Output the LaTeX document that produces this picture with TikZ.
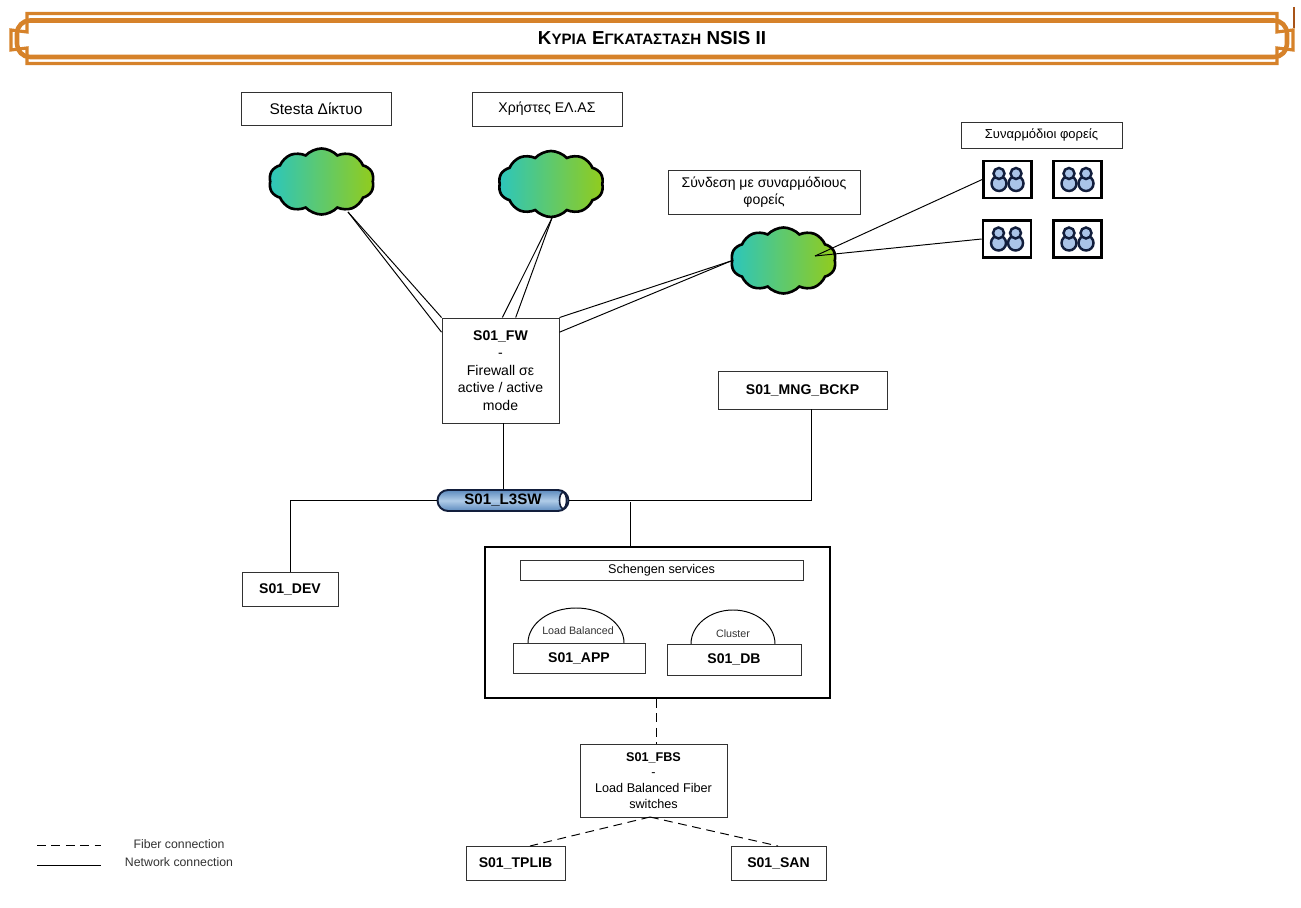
\documentclass[tikz,border=0pt]{standalone}
\usepackage{fontspec}
\setmainfont{Liberation Sans}
\usetikzlibrary{shapes.symbols,shapes.misc}
\definecolor{bannerorange}{RGB}{214,130,42}
\definecolor{bannerdark}{RGB}{168,84,24}
\definecolor{cloudteal}{RGB}{44,198,188}
\definecolor{cloudgreen}{RGB}{146,204,28}
\definecolor{pipeblue}{RGB}{92,138,190}
\definecolor{pipelight}{RGB}{176,204,232}
\definecolor{peerblue}{RGB}{170,196,232}
\definecolor{peernavy}{RGB}{18,30,60}
\definecolor{boxgray}{RGB}{50,50,50}
\tikzset{
    plainbox/.style={draw=boxgray, fill=white, line width=0.55pt, inner sep=0pt, align=center, font=\fontsize{8}{10}\selectfont},
    namebox/.style={plainbox, font=\fontsize{8}{10}\selectfont\bfseries},
    netcloud/.style={cloud, cloud puffs=10, cloud puff arc=95, aspect=1.6, draw=black, line width=1.5pt, inner sep=0pt,
        left color=cloudteal, right color=cloudgreen, minimum width=2.1cm, minimum height=1.32cm},
    peerbox/.style={draw=black, fill=white, line width=1.5pt, inner sep=0pt, minimum width=0.96cm, minimum height=0.74cm},
    netline/.style={draw=black, line width=0.55pt},
    fiberline/.style={draw=black, line width=0.55pt, dash pattern=on 5pt off 3.2pt},
    bannerline/.style={draw=bannerorange, line join=miter}
}
\begin{document}
\begin{tikzpicture}[x=0.02cm, y=-0.02cm]
    \useasboundingbox (0,0) rectangle (1301,908);

    % Banner
    \draw[bannerline, line width=1.8pt] (27,13.5) -- (1277,13.5) -- (1277,32) -- (1293,30) -- (1293,50) -- (1277,48) -- (1277,63.5) -- (27,63.5) -- (27,48) -- (11,50) -- (11,30) -- (27,32) -- cycle;
    \draw[bannerline, line width=2.6pt] (30,20.5) -- (1274,20.5) arc[start angle=-90, end angle=0, radius=13] -- (1287,44) arc[start angle=0, end angle=90, radius=13] -- (30,57) arc[start angle=90, end angle=180, radius=13] -- (17,33.5) arc[start angle=180, end angle=270, radius=13] -- cycle;
    \draw[bannerdark, line width=0.7pt] (1294,7) -- (1294,28);
    \node (title) at (652,38.5) {\fontsize{10.7}{12}\selectfont\bfseries Κ{\fontsize{8.6}{12}\selectfont ΥΡΙΑ} Ε{\fontsize{8.6}{12}\selectfont ΓΚΑΤΑΣΤΑΣΗ} NSIS II};

    % Top boxes
    \node[plainbox, minimum width=3cm, minimum height=0.66cm, font=\fontsize{8.8}{10}\selectfont] (stesta) at (316,108.5) {Stesta Δίκτυο};
    \node[plainbox, minimum width=3cm, minimum height=0.68cm] (users) at (547,109) {Χρήστες ΕΛ.ΑΣ};
    \node[plainbox, minimum width=3.84cm, minimum height=0.88cm] (linklabel) at (764,192) {Σύνδεση με συναρμόδιους\\φορείς};
    \node[plainbox, minimum width=3.22cm, minimum height=0.52cm, font=\fontsize{7.4}{9}\selectfont] (peerlabel) at (1041.5,135) {Συναρμόδιοι φορείς};

    % Clouds
    \node[netcloud] (cloudA) at (321.5,181.5) {};
    \node[netcloud] (cloudB) at (551,184) {};
    \node[netcloud] (cloudC) at (783.5,260.5) {};
    \coordinate (cloudAout) at (348,212);
    \coordinate (cloudBout) at (552,218);
    \coordinate (cloudCout) at (731,261);
    \coordinate (cloudCin) at (815,256);

    % Peer boxes
    \foreach \name/\x/\y in {a/1007.5/179.5, b/1077.5/179.5, c/1007/239, d/1077.5/239} {
        \node[peerbox] (peer\name) at (\x,\y) {};
        \foreach \dx in {-8.5,8.5} {
            \draw[draw=peernavy, fill=peerblue, line width=1.4pt] (\x+\dx,\y+4) circle[radius=7.5];
            \draw[draw=peernavy, fill=peerblue, line width=1.4pt] (\x+\dx,\y-6) circle[radius=5.5];
        }
    }

    % Middle boxes
    \node[plainbox, minimum width=2.34cm, minimum height=2.1cm] (fw) at (500.5,370.5) {\textbf{S01\_FW}\\-\\Firewall σε\\active / active\\mode};
    \node[namebox, minimum width=3.38cm, minimum height=0.76cm] (mng) at (802.5,390) {S01\_MNG\_BCKP};
    \node[rounded rectangle, draw=peernavy, line width=1.1pt, inner sep=0pt, minimum width=2.62cm, minimum height=0.42cm,
        top color=pipeblue, bottom color=pipeblue, middle color=pipelight, font=\fontsize{8.6}{10}\selectfont\bfseries] (l3sw) at (503,500.5) {S01\_L3SW};
    \draw[draw=peernavy, fill=white, line width=0.9pt] (563,500.5) ellipse[x radius=3.5, y radius=8];
    \node[namebox, minimum width=1.92cm, minimum height=0.68cm] (dev) at (290,589) {S01\_DEV};

    % Schengen box
    \node[draw=black, line width=1.1pt, inner sep=0pt, minimum width=6.9cm, minimum height=3.02cm] (services) at (657.5,622.5) {};
    \node[plainbox, minimum width=5.66cm, minimum height=0.4cm, font=\fontsize{7.2}{9}\selectfont] (schengen) at (661.5,570) {Schengen services};
    \draw[line width=0.55pt] (528,643) arc[start angle=180, end angle=360, x radius=48, y radius=35];
    \draw[line width=0.55pt] (691,644) arc[start angle=180, end angle=360, x radius=42, y radius=34];
    \node[font=\fontsize{6.1}{7}\selectfont, text=boxgray] (lbl) at (578,631) {Load Balanced};
    \node[font=\fontsize{6.1}{7}\selectfont, text=boxgray] (clusterlbl) at (733,634) {Cluster};
    \node[namebox, minimum width=2.64cm, minimum height=0.6cm] (app) at (579,658) {S01\_APP};
    \node[namebox, minimum width=2.68cm, minimum height=0.62cm] (db) at (734,659.5) {S01\_DB};

    % Storage
    \node[plainbox, minimum width=2.94cm, minimum height=1.46cm, font=\fontsize{7.2}{9}\selectfont] (fbs) at (653.5,780.5) {\textbf{S01\_FBS}\\-\\Load Balanced Fiber\\switches};
    \node[namebox, minimum width=1.98cm, minimum height=0.68cm] (tplib) at (515.5,863) {S01\_TPLIB};
    \node[namebox, minimum width=1.9cm, minimum height=0.68cm] (san) at (778.5,863) {S01\_SAN};

    % Network connections
    \draw[netline] (cloudAout) -- (fw.north west);
    \draw[netline] (cloudAout) -- (fw.147);
    \draw[netline] (cloudBout) -- (fw.88);
    \draw[netline] (cloudBout) -- (fw.74);
    \draw[netline] (cloudCout) -- (fw.north east);
    \draw[netline] (cloudCout) -- (fw.33);
    \draw[netline] (cloudCin) -- (peera.west);
    \draw[netline] (cloudCin) -- (peerc.west);
    \draw[netline] (l3sw.north) -- (l3sw.north |- fw.south);
    \draw[netline] (l3sw.west) -| (dev.north);
    \coordinate (mngdrop) at (811,409);
    \draw[netline] (l3sw.east) -| (mngdrop);
    \coordinate (drop) at (630,502);
    \draw[netline] (drop) -- (drop |- services.north);

    % Fiber connections
    \coordinate (fbstop) at (656,744);
    \coordinate (fbsbot) at (650,817);
    \coordinate (sanin) at (778,846);
    \coordinate (tplibin) at (530,846);
    \draw[fiberline] (fbstop |- services.south) -- (fbstop);
    \draw[fiberline] (fbsbot) -- (tplibin);
    \draw[fiberline] (fbsbot) -- (sanin);

    % Legend
    \coordinate (fibera) at (37,845);
    \coordinate (fiberb) at (101,845);
    \coordinate (neta) at (37,865);
    \coordinate (netb) at (101,865);
    \draw[fiberline] (fibera) -- (fiberb);
    \draw[netline] (neta) -- (netb);
    \node[font=\fontsize{7}{8}\selectfont, text=boxgray] (fiberlbl) at (179,844) {Fiber connection};
    \node[font=\fontsize{7}{8}\selectfont, text=boxgray] (netlbl) at (179,862.5) {Network connection};
\end{tikzpicture}
\end{document}
